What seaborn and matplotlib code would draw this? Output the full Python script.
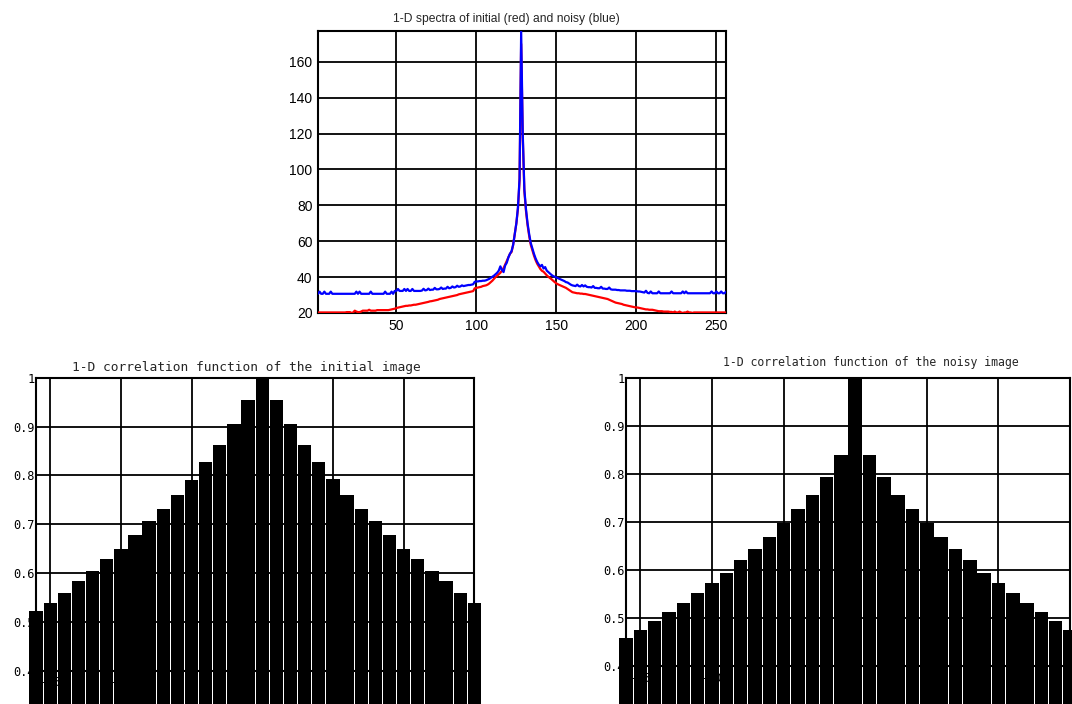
import matplotlib
matplotlib.use('Agg')
from matplotlib import pyplot as plt
import seaborn as sns
import pandas as pd

sns.set_style('white')
plt.rcParams['font.family'] = ['Liberation Sans', 'DejaVu Sans']
plt.rcParams['axes.unicode_minus'] = False

# 1-D spectra, bins 1..256
bins = list(range(1, 257))
spec_initial = [
    20.3, 20.3, 20.3, 20.3, 20.3, 20.3, 20.3, 20.3, 20.3, 20.3,
    20.3, 20.3, 20.3, 20.3, 20.3, 20.3, 20.3, 20.3, 20.5, 20.5,
    20.5, 20.0, 20.3, 21.3, 20.8, 20.5, 20.5, 20.8, 21.3, 21.3,
    21.3, 21.3, 21.8, 21.3, 21.3, 21.3, 21.3, 21.6, 21.6, 21.6,
    21.6, 21.6, 21.6, 21.6, 21.6, 21.8, 22.0, 22.2, 22.4, 22.8,
    23.0, 23.2, 23.4, 23.6, 23.8, 24.0, 24.0, 24.2, 24.2, 24.4,
    24.6, 24.6, 24.8, 25.0, 25.2, 25.4, 25.6, 25.8, 26.0, 26.2,
    26.5, 26.6, 26.8, 27.0, 27.2, 27.4, 27.8, 28.0, 28.2, 28.4,
    28.6, 28.8, 29.0, 29.2, 29.4, 29.6, 29.8, 30.0, 30.4, 30.6,
    30.8, 31.0, 31.2, 31.4, 31.6, 31.8, 32.0, 32.2, 33.8, 34.0,
    34.2, 34.4, 34.6, 35.0, 35.2, 35.4, 35.8, 36.4, 37.2, 38.0,
    39.0, 40.0, 40.8, 41.6, 42.4, 43.6, 45.0, 47.0, 49.0, 51.0,
    53.0, 54.0, 58.0, 64.0, 70.0, 78.0, 94.0, 170.0,
    118.0, 88.0, 77.0, 69.0, 63.0, 58.0, 55.0, 52.0, 49.5, 47.5, 46.0, 44.5,
    43.5, 43.0, 42.0, 41.0, 40.2, 39.5, 38.8, 38.0, 37.2, 36.5,
    36.0, 35.6, 35.2, 34.8, 34.4, 34.0, 33.4, 32.8, 32.2, 31.6,
    31.4, 31.2, 31.0, 31.0, 30.8, 30.8, 30.6, 30.6, 30.4, 30.2,
    30.0, 29.8, 29.6, 29.4, 29.2, 29.0, 28.8, 28.6, 28.4, 28.2,
    28.0, 27.8, 27.4, 27.0, 26.6, 26.2, 25.8, 25.6, 25.4, 25.2,
    25.0, 24.6, 24.4, 24.2, 24.0, 23.8, 23.6, 23.4, 23.2, 23.1,
    23.0, 22.8, 22.6, 22.4, 22.2, 22.0, 22.0, 21.8, 21.8, 21.8,
    21.6, 21.4, 21.2, 21.0, 21.0, 21.0, 20.8, 20.8, 20.8, 20.8,
    20.6, 20.6, 20.3, 20.8, 20.3, 20.3, 20.8, 20.3, 20.0, 20.3,
    20.3, 20.8, 20.3, 20.3, 20.0, 20.3, 20.3, 20.3, 20.3, 20.3,
    20.3, 20.3, 20.3, 20.3, 20.3, 20.3, 20.3, 20.3,
    20.3, 20.3, 20.3, 20.3, 20.3, 20.3, 20.3, 20.3,
]
spec_noisy = [
    30.7, 31.9, 30.7, 30.7, 31.9, 30.7, 30.7, 30.7, 31.9, 30.7, 30.7, 30.7, 30.7, 30.7, 30.7, 30.7,
    30.7, 30.7, 30.7, 30.7, 30.7, 30.7, 30.7, 30.7, 31.9, 30.7, 31.9, 30.7, 30.7, 30.7, 30.7, 30.7,
    30.7, 31.9, 30.7, 30.7, 30.7, 30.7, 30.7, 30.7, 30.7, 30.7, 31.9, 30.7, 30.7, 30.7, 31.9, 30.7,
    32.3, 32.3, 33.4, 32.3, 32.3, 32.3, 33.4, 32.3, 33.4, 32.3, 32.3, 33.4, 32.3, 32.3, 32.3, 32.3,
    32.3, 32.5, 33.5, 32.6, 32.8, 33.6, 32.8, 33.0, 33.0, 34.0, 33.2, 33.2, 33.4, 34.2, 33.4, 33.6,
    33.6, 34.6, 33.8, 34.0, 34.8, 34.2, 34.4, 35.2, 34.6, 34.8, 35.4, 35.0, 35.2, 35.4, 35.6, 35.6,
    35.8, 36.0, 37.4, 37.6, 37.6, 37.8, 37.8, 38.0, 38.0, 38.2, 38.6, 39.0, 39.6, 40.2, 40.8, 41.6,
    42.4, 43.6, 46.0, 44.0, 42.8, 46.5, 48.0, 51.0, 53.0, 54.5, 58.0, 64.0, 70.0, 79.0, 95.0, 177.0,
    120.0, 89.0, 78.0, 70.0, 64.0, 59.0, 56.0, 53.0, 50.5, 48.5, 47.0, 46.0, 46.8, 44.8, 45.6, 43.6,
    42.8, 42.0, 41.2, 40.6, 40.2, 39.8, 39.4, 39.0, 38.6, 38.2, 37.8, 37.2, 37.0, 36.4, 35.8, 35.4,
    35.2, 35.0, 35.8, 35.0, 34.8, 35.6, 34.8, 35.4, 34.6, 34.4, 34.4, 34.2, 35.0, 34.0, 34.0, 33.8,
    33.8, 34.6, 33.6, 33.6, 33.4, 33.4, 34.2, 33.2, 33.0, 33.0, 33.0, 32.8, 32.8, 32.6, 32.6, 32.6,
    32.6, 32.4, 32.4, 32.4, 32.2, 32.2, 32.2, 32.2, 32.0, 32.0, 31.8, 31.6, 31.4, 32.4, 31.2, 31.0,
    32.0, 31.0, 31.0, 31.0, 31.0, 32.0, 31.0, 31.0, 31.0, 31.0, 31.0, 31.0, 31.0, 32.0, 31.0, 31.0,
    31.0, 31.0, 31.0, 31.0, 32.0, 31.0, 32.0, 31.0, 31.0, 31.0, 31.0, 31.0, 31.0, 31.0, 31.0, 31.0,
    31.0, 31.0, 31.0, 31.0, 31.0, 31.0, 32.0, 31.0, 31.0, 32.0, 31.0, 31.0, 32.0, 31.0, 31.0, 31.8,
]

# 1-D correlation functions, lags -16..15
lags = list(range(-16, 16))
corr_initial = [0.522, 0.539, 0.560, 0.584, 0.605, 0.629, 0.650, 0.678, 0.707, 0.732, 0.760,
                0.790, 0.827, 0.863, 0.905, 0.955, 1.000, 0.955, 0.905, 0.863, 0.827, 0.792,
                0.760, 0.731, 0.707, 0.678, 0.650, 0.629, 0.605, 0.584, 0.560, 0.539]
corr_noisy = [0.459, 0.475, 0.493, 0.513, 0.531, 0.552, 0.572, 0.593, 0.620, 0.644, 0.668,
              0.698, 0.727, 0.756, 0.794, 0.839, 1.000, 0.839, 0.794, 0.756, 0.727, 0.698,
              0.668, 0.644, 0.620, 0.593, 0.572, 0.552, 0.531, 0.513, 0.493, 0.475]

spec_df = pd.DataFrame({'bin': bins, 'initial': spec_initial, 'noisy': spec_noisy})
corr_df = pd.DataFrame({'lag': lags, 'initial': corr_initial, 'noisy': corr_noisy})

mono = 'DejaVu Sans Mono'

fig = plt.figure(figsize=(10.72, 7.04), dpi=100)

# top: spectra
ax = fig.add_axes([0.2966, 0.5554, 0.3806, 0.4001])
sns.lineplot(data=spec_df, x='bin', y='initial', color='red', linewidth=1.6, ax=ax, zorder=3)
sns.lineplot(data=spec_df, x='bin', y='noisy', color='blue', linewidth=1.6, ax=ax, zorder=3)
ax.set_xlim(1, 256)
ax.set_ylim(20, 177)
ax.set_xticks([50, 100, 150, 200, 250])
ax.set_yticks([20, 40, 60, 80, 100, 120, 140, 160])
ax.set_xlabel('')
ax.set_ylabel('')
ax.grid(True, color='black', linewidth=1.3, linestyle='-')
ax.set_axisbelow(True)
ax.tick_params(direction='in', length=3, width=1, labelsize=10, pad=4, colors='black')
for s in ax.spines.values():
    s.set_color('black')
    s.set_linewidth(1.5)
ax.text(0.461, 1.045, '1-D spectra of initial (red) and noisy (blue)', transform=ax.transAxes,
        ha='center', va='center', fontsize=8.7)


def corr_panel(rect, col, title, tx, ty, tsize):
    ax = fig.add_axes(rect)
    sns.barplot(data=corr_df, x='lag', y=col, native_scale=True, color='black',
                saturation=1, width=0.94, edgecolor='none', ax=ax)
    for p in ax.patches:
        p.set_clip_on(False)
        p.set_zorder(3)
    ax.set_xlim(-16, 15)
    ax.set_ylim(0.4, 1)
    ax.set_xticks([-15, -10, -5, 0, 5, 10, 15])
    ax.set_yticks([0.4, 0.5, 0.6, 0.7, 0.8, 0.9, 1.0])
    ax.set_yticklabels(['0.4', '0.5', '0.6', '0.7', '0.8', '0.9', '1'])
    ax.set_xlabel('')
    ax.set_ylabel('')
    ax.grid(True, color='black', linewidth=1.3, linestyle='-')
    ax.set_axisbelow(True)
    ax.tick_params(axis='y', direction='in', length=0, pad=1, labelsize=8.6, colors='black')
    ax.tick_params(axis='x', direction='in', length=0, pad=4, labelsize=8.6, colors='black')
    for lab in ax.get_xticklabels() + ax.get_yticklabels():
        lab.set_fontfamily(mono)
    for s in ax.spines.values():
        s.set_color('black')
        s.set_linewidth(1.5)
        s.set_zorder(0.6)
    ax.text(tx, ty, title, transform=ax.transAxes, ha='center', va='center',
            fontsize=tsize, fontfamily=mono)
    return ax


corr_panel([0.0336, 0.0473, 0.4089, 0.4162], 'initial',
           '1-D correlation function of the initial image', 0.479, 1.035, 9.3)
corr_panel([0.5840, 0.0540, 0.4142, 0.4095], 'noisy',
           '1-D correlation function of the noisy image', 0.552, 1.054, 8.3)

fig.savefig('out.png', dpi=100)
